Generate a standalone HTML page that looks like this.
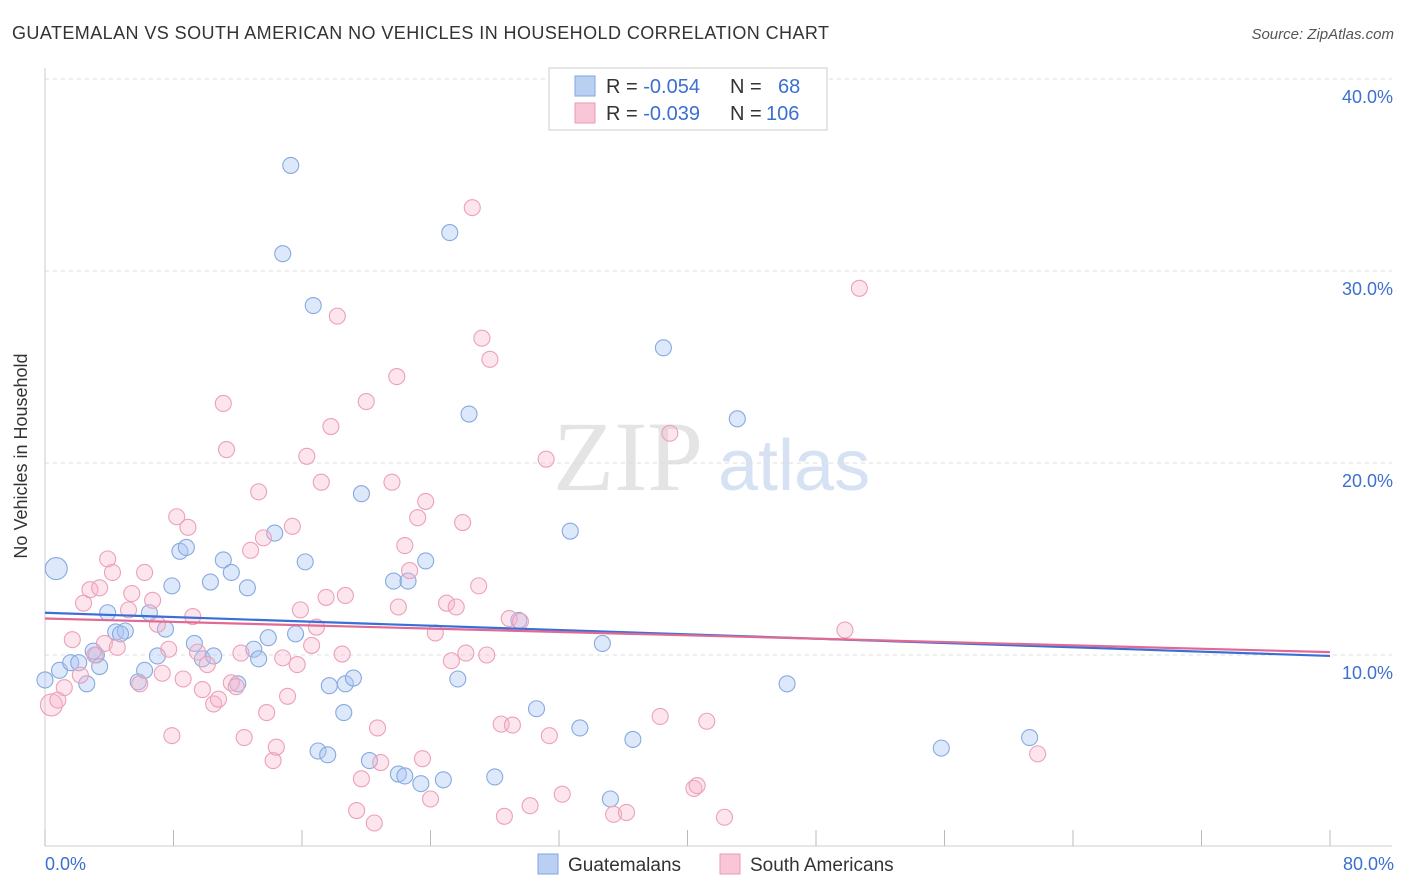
<!DOCTYPE html>
<html><head><meta charset="utf-8"><style>
body{margin:0;background:#fff;font-family:"Liberation Sans",sans-serif;}
svg{display:block}
</style></head><body>
<svg id="chart" width="1406" height="892" viewBox="0 0 1406 892">
<text x="12" y="39" font-size="18" fill="#333" textLength="817">GUATEMALAN VS SOUTH AMERICAN NO VEHICLES IN HOUSEHOLD CORRELATION CHART</text>
<text x="1394" y="39" font-size="15" fill="#555" text-anchor="end" font-style="italic">Source: ZipAtlas.com</text>
<g><text x="553" y="490" font-size="100" font-family="Liberation Serif,serif" fill="#e4e4e4">ZIP</text><text x="718" y="490" font-size="72" fill="#d6e2f3">atlas</text></g>
<g id="grid"></g>
<line x1="45" y1="68" x2="45" y2="846" stroke="#ccc"/>
<line x1="45" y1="846" x2="1392" y2="846" stroke="#ccc"/>
<g id="xticks"></g>
<text x="27" y="456" font-size="18" fill="#333" text-anchor="middle" transform="rotate(-90 27 456)">No Vehicles in Household</text>
<text x="45" y="870" font-size="18" fill="#3b6fd0">0.0%</text>
<text x="1394" y="870" font-size="18" fill="#3b6fd0" text-anchor="end">80.0%</text>
<g id="points"></g>
<g id="trends"></g>
<g>
<rect x="549" y="68" width="278" height="62" fill="#fff" stroke="#ccc"/>
<rect x="575" y="76" width="20" height="20" fill="#b9d0f2" stroke="#7fa6e0"/>
<rect x="575" y="103" width="20" height="20" fill="#f8c6d6" stroke="#eb9ab5"/>
<text x="606" y="93" font-size="20" fill="#333">R = <tspan fill="#3b6fd0">-0.054</tspan><tspan x="730">N =</tspan><tspan x="778" fill="#3b6fd0">68</tspan></text>
<text x="606" y="120" font-size="20" fill="#333">R = <tspan fill="#3b6fd0">-0.039</tspan><tspan x="730">N =</tspan><tspan x="766" fill="#3b6fd0">106</tspan></text>
</g>
<g>
<rect x="538" y="854" width="20" height="20" fill="#b9d0f2" stroke="#7fa6e0"/>
<text x="568" y="871" font-size="19" fill="#333">Guatemalans</text>
<rect x="720" y="854" width="20" height="20" fill="#f8c6d6" stroke="#eb9ab5"/>
<text x="750" y="871" font-size="19" fill="#333">South Americans</text>
</g>
</svg>
<script>
const yTicks=[10,20,30,40];
const xTickVals=[0,8,16,24,32,40,48,56,64,72,80];
const blueX=[0.7,0.0,0.9,1.6,2.1,2.6,3.2,3.4,3.0,3.9,4.4,5.0,4.7,5.8,6.2,6.5,7.0,7.5,7.9,8.4,8.8,9.3,9.8,10.3,10.5,11.1,11.6,12.0,12.6,13.0,13.3,13.9,14.3,14.8,15.3,15.6,16.2,16.7,17.0,17.6,17.7,18.6,18.7,19.2,19.7,20.2,21.7,22.0,22.4,22.6,23.4,23.7,24.8,25.2,25.7,26.4,28.0,29.5,30.6,32.7,33.3,34.7,35.2,36.6,38.5,43.1,46.2,55.8,61.3];
const blueY=[14.5,8.7,9.2,9.6,9.6,8.5,10.0,9.4,10.2,12.2,11.2,11.25,11.1,8.6,9.2,12.2,9.95,11.35,13.6,15.4,15.6,10.6,9.8,13.8,9.95,14.95,14.3,8.5,13.5,10.3,9.8,10.9,16.35,30.9,35.5,11.1,14.85,28.2,5.0,4.8,8.4,7.0,8.5,8.8,18.4,4.5,13.85,3.8,3.7,13.85,3.3,14.9,3.5,32.0,8.75,22.55,3.65,11.8,7.2,16.45,6.2,10.6,2.5,5.6,26.0,22.3,8.5,5.15,5.7];
const pinkX=[0.4,0.8,1.2,1.7,2.2,2.4,2.8,3.1,3.4,3.7,3.9,4.2,4.5,5.2,5.4,5.9,6.2,6.7,7.0,7.3,7.7,7.9,8.2,8.6,8.9,9.2,9.5,9.8,10.1,10.5,10.8,11.1,11.3,11.6,11.9,12.2,12.4,12.8,13.3,13.6,13.8,14.2,14.4,14.8,15.1,15.4,15.7,15.9,16.3,16.6,16.9,17.2,17.5,17.8,18.2,18.5,18.7,19.4,19.7,20.0,20.5,20.7,20.9,21.6,21.9,22.0,22.4,22.7,23.2,23.5,23.7,24.0,24.3,25.0,25.3,25.6,26.0,26.2,26.6,27.0,27.2,27.5,27.7,28.4,28.6,28.9,29.1,29.6,30.2,31.2,31.4,32.2,35.4,36.2,38.3,38.9,40.4,40.6,41.2,42.3,49.8,50.7,61.8];
const pinkY=[7.4,7.65,8.3,10.8,8.95,12.7,13.4,10.0,13.5,10.6,15.0,14.3,10.4,12.35,13.2,8.5,14.3,12.85,11.6,9.05,10.3,5.8,17.2,8.75,16.65,12.0,10.15,8.2,9.5,7.45,7.7,23.1,20.7,8.55,8.35,10.1,5.7,15.45,18.5,16.1,7.0,4.5,5.2,9.85,7.85,16.7,9.5,12.35,20.35,10.5,11.45,19.0,13.0,21.9,27.65,10.05,13.1,1.9,3.55,23.2,1.25,6.2,4.4,19.0,24.5,12.5,15.7,14.4,17.15,4.6,18.0,2.5,11.15,12.7,9.7,12.5,16.9,10.1,33.3,13.6,26.5,10.0,25.4,6.4,1.6,11.9,6.35,11.75,2.15,20.2,5.8,2.75,1.7,1.8,6.8,21.55,3.05,3.2,6.55,1.55,11.3,29.1,4.85];
const blueTrend=[12.2,9.95];
const pinkTrend=[11.9,10.15];
const xs=v=>45+v*(1330-45)/80;
const ys=v=>847-v*19.2;
const NS='http://www.w3.org/2000/svg';
function mk(tag,attrs,parent){const e=document.createElementNS(NS,tag);for(const k in attrs)e.setAttribute(k,attrs[k]);document.getElementById(parent).appendChild(e);return e;}
yTicks.forEach(t=>{
 const l=mk('line',{x1:45,x2:1392,y1:ys(t),y2:ys(t),stroke:'#ddd','stroke-dasharray':'4,4'},'grid');
 
 
 const tx=mk('text',{x:1393,y:ys(t)+24,'font-size':18,fill:'#3b6fd0','text-anchor':'end'},'grid');
 tx.textContent=t.toFixed(1)+'%';
 
 
});
xTickVals.forEach(t=>{
 const l=mk('line',{x1:xs(t),x2:xs(t),y1:830,y2:846,stroke:'#bbb'},'xticks');
 
 
});
function pts(X,Y,fill,stroke,name){
 X.forEach((x,i)=>{
  const r=(i===0)?11:8;
  const c=mk('circle',{cx:xs(x),cy:ys(Y[i]),r:r,fill:fill,stroke:stroke,'stroke-width':1.1},'points');
  
  
 });
}
pts(blueX,blueY,'rgba(170,198,242,0.4)','#86aae0','guatemalan-point');
pts(pinkX,pinkY,'rgba(248,180,204,0.35)','#eca0ba','south-american-point');
const b=mk('line',{x1:xs(0),y1:ys(blueTrend[0]),x2:xs(80),y2:ys(blueTrend[1]),stroke:'#3a6fd8','stroke-width':2.2},'trends');


const p=mk('line',{x1:xs(0),y1:ys(pinkTrend[0]),x2:xs(80),y2:ys(pinkTrend[1]),stroke:'#e06a93','stroke-width':2.2},'trends');


</script>
</body></html>
